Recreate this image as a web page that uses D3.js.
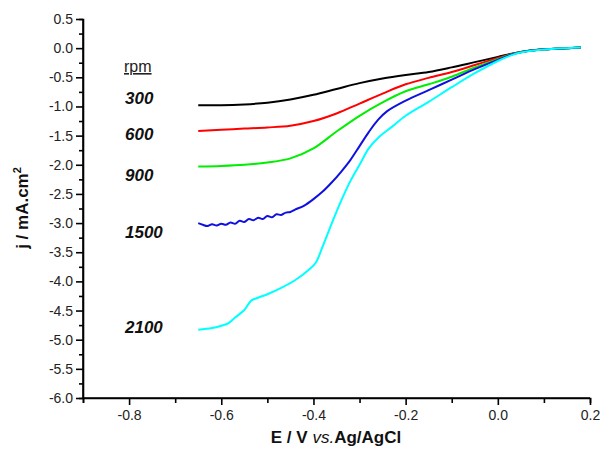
<!DOCTYPE html>
<html>
<head>
<meta charset="utf-8">
<script src="https://cdn.jsdelivr.net/npm/d3@7"></script>
<style>
  body { margin: 0; background: #fff; }
  svg { font-family: "Liberation Sans", Arial, sans-serif; }
  .axis path, .axis line { stroke: #000; stroke-width: 1.6px; }
  .axis text { font-size: 14px; fill: #222; }
</style>
</head>
<body>
<svg id="chart" width="608" height="453"></svg>
<script>
// rotation rates (rpm) and curve colours
var rpm = ["300", "600", "900", "1500", "2100"];
var colors = ["#000000", "#ff0000", "#00ee00", "#1010e0", "#00ffff"];

// each series: [E (V vs Ag/AgCl), j (mA cm-2)]
var s300 = [[-0.65, -0.98], [-0.6, -0.98], [-0.55, -0.965], [-0.5, -0.935], [-0.45, -0.88], [-0.4, -0.80],
  [-0.35, -0.70], [-0.3, -0.60], [-0.25, -0.52], [-0.2, -0.46], [-0.15, -0.41], [-0.1, -0.33],
  [-0.05, -0.24], [0, -0.15], [0.03, -0.095], [0.05, -0.065], [0.1, -0.02], [0.15, 0.0], [0.18, 0.01]];
var s600 = [[-0.65, -1.42], [-0.6, -1.40], [-0.55, -1.38], [-0.5, -1.36], [-0.45, -1.33], [-0.4, -1.25],
  [-0.35, -1.12], [-0.3, -0.95], [-0.25, -0.78], [-0.2, -0.62], [-0.15, -0.51], [-0.1, -0.41],
  [-0.05, -0.29], [0, -0.17], [0.03, -0.10], [0.05, -0.065], [0.1, -0.02], [0.15, 0.0], [0.18, 0.01]];
var s900 = [[-0.65, -2.03], [-0.6, -2.02], [-0.55, -2.0], [-0.5, -1.96], [-0.45, -1.89], [-0.4, -1.72],
  [-0.35, -1.43], [-0.3, -1.16], [-0.25, -0.93], [-0.2, -0.74], [-0.15, -0.62], [-0.1, -0.49],
  [-0.05, -0.33], [0, -0.19], [0.03, -0.105], [0.05, -0.065], [0.1, -0.02], [0.15, 0.0], [0.18, 0.01]];
var s1500 = [[-0.65, -3.0], [-0.64, -3.03], [-0.63, -3.05], [-0.62, -3.02], [-0.61, -3.04], [-0.6, -3.01],
  [-0.59, -3.03], [-0.58, -2.99], [-0.57, -3.01], [-0.56, -2.96], [-0.55, -2.98], [-0.54, -2.93],
  [-0.53, -2.95], [-0.52, -2.91], [-0.51, -2.93], [-0.5, -2.88], [-0.49, -2.90], [-0.48, -2.85],
  [-0.47, -2.86], [-0.46, -2.82], [-0.45, -2.81], [-0.44, -2.77], [-0.42, -2.70], [-0.4, -2.59],
  [-0.38, -2.46], [-0.36, -2.30], [-0.34, -2.12], [-0.32, -1.92], [-0.3, -1.68], [-0.28, -1.44],
  [-0.26, -1.23], [-0.24, -1.08], [-0.2, -0.90], [-0.15, -0.72], [-0.1, -0.54], [-0.05, -0.36],
  [0, -0.20], [0.03, -0.11], [0.05, -0.07], [0.1, -0.02], [0.15, 0.0], [0.18, 0.01]];
var s2100 = [[-0.65, -4.83], [-0.62, -4.80], [-0.6, -4.76], [-0.585, -4.72], [-0.57, -4.62], [-0.55, -4.49],
  [-0.535, -4.33], [-0.52, -4.28], [-0.5, -4.22], [-0.47, -4.11], [-0.44, -3.98], [-0.41, -3.80],
  [-0.395, -3.68], [-0.38, -3.40], [-0.36, -3.0], [-0.34, -2.62], [-0.32, -2.28], [-0.3, -2.0],
  [-0.28, -1.72], [-0.26, -1.54], [-0.23, -1.35], [-0.2, -1.16], [-0.15, -0.92], [-0.1, -0.67],
  [-0.05, -0.43], [0, -0.22], [0.03, -0.12], [0.05, -0.075], [0.1, -0.025], [0.15, 0.0], [0.18, 0.01]];
var series = [s300, s600, s900, s1500, s2100];

// rpm labels sit at these j values, left of the curves
var labelJ = [-0.95, -1.58, -2.28, -3.25, -4.88];

var xTicks = [-0.8, -0.6, -0.4, -0.2, 0.0, 0.2];
var xMinor = [-0.9, -0.7, -0.5, -0.3, -0.1, 0.1];
var yTicks = d3.range(0.5, -6.01, -0.5);
var yMinor = d3.range(0.25, -6.0, -0.5);

// plain hyphen for negatives, like the original plot
var fmt = function (d) { return Math.abs(d) < 1e-9 ? "0.0" : d.toFixed(1); };

var svg = d3.select("#chart");
var x = d3.scaleLinear().domain([-0.9, 0.2]).range([83, 590]);
var y = d3.scaleLinear().domain([-6.0, 0.5]).range([398, 19]);

// minor ticks first so major ones draw on top
svg.append("g").attr("class", "axis").attr("transform", "translate(83,0)")
  .call(d3.axisLeft(y).tickValues(yMinor).tickSize(4).tickFormat(""));
svg.append("g").attr("class", "axis").attr("transform", "translate(0,398)")
  .call(d3.axisBottom(x).tickValues(xMinor).tickSize(5).tickFormat(""));

var ya = svg.append("g").attr("class", "axis").attr("transform", "translate(83,0)")
  .call(d3.axisLeft(y).tickValues(yTicks).tickSize(7).tickPadding(3).tickFormat(fmt));
var xa = svg.append("g").attr("class", "axis").attr("transform", "translate(0,398)")
  .call(d3.axisBottom(x).tickValues(xTicks).tickSize(7).tickPadding(5).tickFormat(fmt));
ya.select(".domain").attr("d", "M0,19V398");
xa.select(".domain").attr("d", "M83,0H590");

var line = d3.line()
  .x(function (d) { return x(d[0]); })
  .y(function (d) { return y(d[1]); })
  .curve(d3.curveCatmullRom.alpha(0.5));

svg.append("g").selectAll("path").data(series).enter().append("path")
  .attr("d", line)
  .attr("fill", "none")
  .attr("stroke", function (d, i) { return colors[i]; })
  .attr("stroke-width", 2);

// rpm labels
svg.append("text").attr("x", 124).attr("y", 72)
  .style("font-size", "16px").style("text-decoration", "underline").attr("fill", "#222")
  .text("rpm");
svg.append("g").selectAll("text").data(rpm).enter().append("text")
  .attr("x", 125)
  .attr("y", function (d, i) { return y(labelJ[i]); })
  .style("font-size", "17px").style("font-weight", "bold").style("font-style", "italic")
  .attr("fill", "#111")
  .text(function (d) { return d; });

// axis titles
var xt = svg.append("text").attr("x", 336).attr("y", 443).attr("text-anchor", "middle")
  .style("font-size", "17px").style("font-weight", "bold").attr("fill", "#111");
xt.append("tspan").text("E / V ");
xt.append("tspan").style("font-style", "italic").style("font-weight", "normal").text("vs.");
xt.append("tspan").text("Ag/AgCl");

var yt = svg.append("text").attr("transform", "translate(28,208) rotate(-90)").attr("text-anchor", "middle")
  .style("font-size", "17px").style("font-weight", "bold").attr("fill", "#111");
yt.append("tspan").text("j / mA.cm");
yt.append("tspan").attr("dy", -7).style("font-size", "11px").text("2");
</script>
</body>
</html>
